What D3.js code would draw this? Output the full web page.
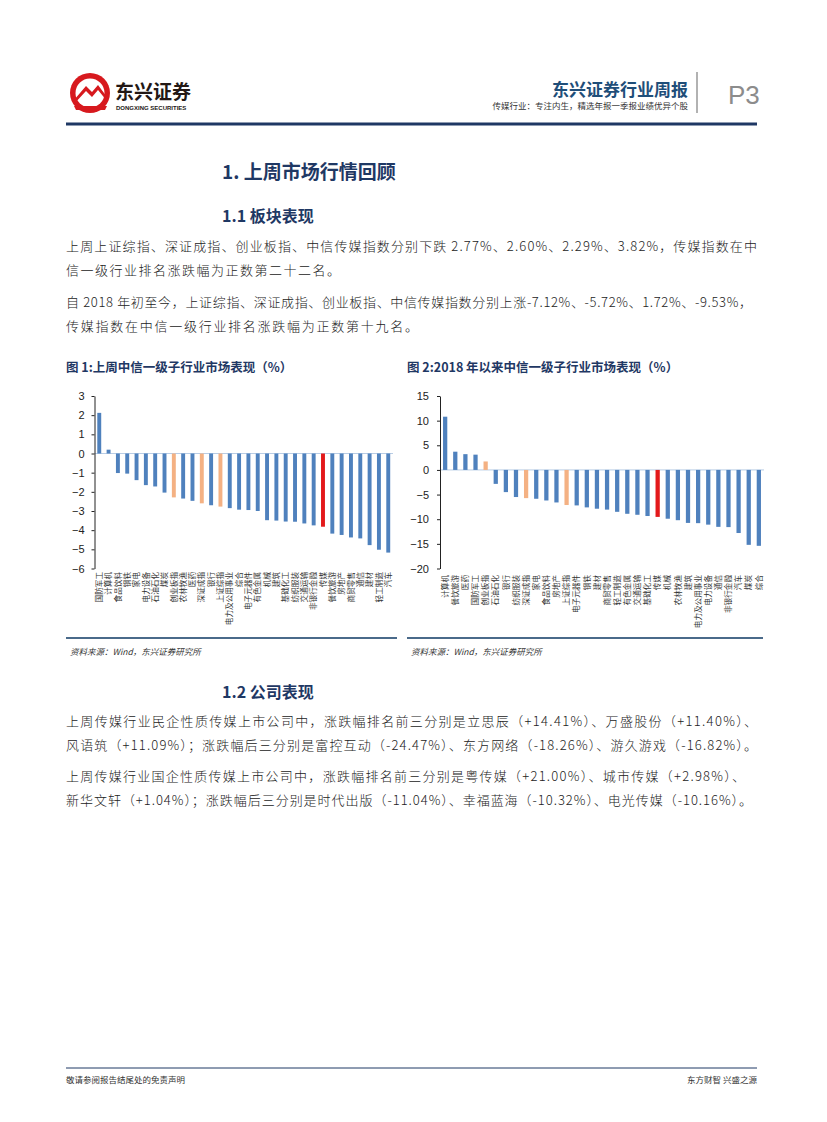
<!DOCTYPE html>
<html>
<head>
<meta charset="utf-8">
<script src="https://cdn.jsdelivr.net/npm/d3@7"></script>
<style>
  body { margin: 0; background: #fff; }
  svg { display: block; }
</style>
</head>
<body>
<div id="page"></div>
<script>
// ---- data ----
var cats1 = ["国防军工","计算机","食品饮料","钢铁","家电","电力设备","石油石化","煤炭","创业板指","农林牧渔","医药","深证成指","银行","上证综指","电力及公用事业","综合","电子元器件","有色金属","机械","建筑","基础化工","纺织服装","交通运输","非银行金融","传媒","餐饮旅游","房地产","商贸零售","通信","建材","轻工制造","汽车"];
var vals1 = [2.12,0.2,-1.02,-1.05,-1.39,-1.65,-1.72,-2.04,-2.29,-2.35,-2.47,-2.60,-2.70,-2.77,-2.85,-2.93,-2.95,-3.0,-3.48,-3.5,-3.55,-3.56,-3.65,-3.75,-3.82,-4.18,-4.25,-4.38,-4.43,-4.78,-5.02,-5.17];
var ticks1 = [3,2,1,0,-1,-2,-3,-4,-5,-6];

var cats2 = ["计算机","餐饮旅游","医药","国防军工","创业板指","石油石化","银行","纺织服装","深证成指","家电","食品饮料","房地产","上证综指","电子元器件","钢铁","建材","商贸零售","轻工制造","有色金属","交通运输","基础化工","传媒","机械","农林牧渔","建筑","电力及公用事业","电力设备","通信","非银行金融","汽车","煤炭","综合"];
var vals2 = [10.8,3.7,3.2,3.1,1.72,-2.83,-4.5,-5.5,-5.72,-5.85,-6.2,-6.6,-7.12,-7.2,-7.6,-7.87,-8.05,-8.5,-8.9,-9.1,-9.35,-9.53,-9.9,-10.2,-10.75,-10.8,-11.1,-11.55,-11.6,-12.8,-15.2,-15.4];
var ticks2 = [15,10,5,0,-5,-10,-15,-20];

var indexNames = ["上证综指","深证成指","创业板指"];
var focusName = "传媒";

var para1 = [
  "上周上证综指、深证成指、创业板指、中信传媒指数分别下跌 2.77%、2.60%、2.29%、3.82%，传媒指数在中",
  "信一级行业排名涨跌幅为正数第二十二名。"
];
var para2 = [
  "自 2018 年初至今，上证综指、深证成指、创业板指、中信传媒指数分别上涨-7.12%、-5.72%、1.72%、-9.53%，",
  "传媒指数在中信一级行业排名涨跌幅为正数第十九名。"
];
var para3 = [
  "上周传媒行业民企性质传媒上市公司中，涨跌幅排名前三分别是立思辰（+14.41%）、万盛股份（+11.40%）、",
  "风语筑（+11.09%）；涨跌幅后三分别是富控互动（-24.47%）、东方网络（-18.26%）、游久游戏（-16.82%）。"
];
var para4 = [
  "上周传媒行业国企性质传媒上市公司中，涨跌幅排名前三分别是粤传媒（+21.00%）、城市传媒（+2.98%）、",
  "新华文轩（+1.04%）；涨跌幅后三分别是时代出版（-11.04%）、幸福蓝海（-10.32%）、电光传媒（-10.16%）。"
];

// ---- page ----
var W = 827, H = 1122;
var NAVY = "#1F3864", BLUE = "#4F81BD", ORANGE = "#F4B183", RED = "#E3191B";
var CJK = "'Noto Sans CJK SC', sans-serif";

var svg = d3.select("#page").append("svg").attr("width", W).attr("height", H);
svg.append("rect").attr("width", W).attr("height", H).attr("fill", "#fff");

// header logo
var logo = svg.append("g");
logo.append("circle").attr("cx", 90).attr("cy", 93).attr("r", 20).attr("fill", "#D7191E");
logo.append("circle").attr("cx", 90).attr("cy", 93).attr("r", 14.5).attr("fill", "#fff");
logo.append("path").attr("d", "M74,100 L86,86 L92,92 L98,85 L107,97 L107,101 L98,90 L92,97 L86,91 L74,104 Z").attr("fill", "#D7191E");
logo.append("path").attr("d", "M74,106 L107,106 L105,110 L76,110 Z").attr("fill", "#D7191E");
logo.append("text").attr("x", 115).attr("y", 99).attr("font-family", CJK).attr("font-weight", 700)
  .attr("font-size", 19).attr("fill", "#231815").text("东兴证券");
logo.append("text").attr("x", 116).attr("y", 110).attr("font-family", "'Liberation Sans', Arial").attr("font-weight", 700)
  .attr("font-size", 6).attr("fill", "#231815").text("DONGXING SECURITIES");

svg.append("text").attr("x", 688).attr("y", 96).attr("text-anchor", "end").attr("font-family", CJK)
  .attr("font-weight", 700).attr("font-size", 17).attr("fill", "#1F4E79").text("东兴证券行业周报");
svg.append("text").attr("x", 688).attr("y", 109).attr("text-anchor", "end").attr("font-family", CJK)
  .attr("font-size", 8.5).attr("fill", "#333").text("传媒行业：专注内生，精选年报一季报业绩优异个股");
svg.append("line").attr("x1", 697).attr("x2", 697).attr("y1", 72).attr("y2", 113).attr("stroke", "#999").attr("stroke-width", 1.5);
svg.append("text").attr("x", 728).attr("y", 104).attr("font-family", "'Liberation Sans', Arial")
  .attr("font-size", 26).attr("fill", "#8c8c8c").text("P3");
svg.append("line").attr("x1", 66).attr("x2", 757).attr("y1", 124).attr("y2", 124).attr("stroke", NAVY).attr("stroke-width", 3);

// headings
function heading(txt, y, size) {
  svg.append("text").attr("x", 222).attr("y", y).attr("font-family", CJK).attr("font-weight", 700)
    .attr("font-size", size).attr("fill", NAVY).text(txt);
}
heading("1. 上周市场行情回顾", 179, 19);
heading("1.1 板块表现", 222, 16);
heading("1.2 公司表现", 698, 16);

// paragraphs (line widths measured from the page)
function para(lines, y0, widths) {
  lines.forEach(function(t, i) {
    var el = svg.append("text").attr("x", 66).attr("y", y0 + i * 24).attr("font-family", CJK)
      .attr("font-size", 13).attr("font-weight", 300).attr("fill", "#222").text(t);
    if (widths[i]) el.attr("textLength", widths[i]).attr("lengthAdjust", "spacing");
  });
}
para(para1, 251, [691, 274]);
para(para2, 307, [686, 352]);
para(para3, 726, [691, 691]);
para(para4, 781, [679, 686]);

// ---- charts ----
function barChart(opt) {
  var g = svg.append("g");
  g.append("text").attr("x", opt.titleX).attr("y", 372).attr("font-family", CJK).attr("font-weight", 700)
    .attr("font-size", 12.5).attr("fill", NAVY).text(opt.title);

  var x = d3.scaleBand().domain(opt.cats).range(opt.xRange).paddingInner(0.58).paddingOuter(0.3);
  var y = d3.scaleLinear().domain(opt.domain).range([568.5, 396]);

  // zero line
  g.append("line").attr("x1", opt.xRange[0]).attr("x2", opt.xRange[1]).attr("y1", y(0)).attr("y2", y(0))
    .attr("stroke", "#B9CDE5").attr("stroke-width", 1);

  g.selectAll("rect.bar").data(opt.vals).enter().append("rect").attr("class", "bar")
    .attr("x", function(d, i) { return x(opt.cats[i]); })
    .attr("width", x.bandwidth())
    .attr("y", function(d) { return y(Math.max(0, d)); })
    .attr("height", function(d) { return Math.abs(y(d) - y(0)); })
    .attr("fill", function(d, i) {
      var c = opt.cats[i];
      if (c === focusName) return RED;
      if (indexNames.indexOf(c) !== -1) return ORANGE;
      return BLUE;
    });

  var ax = g.append("g").attr("transform", "translate(" + opt.xRange[0] + ",0)")
    .call(d3.axisLeft(y).tickValues(opt.ticks).tickSize(3).tickSizeOuter(0).tickPadding(opt.tickPad)
      .tickFormat(d3.format("d")));
  ax.select(".domain").attr("stroke", "#222");
  ax.selectAll(".tick line").attr("stroke", "#222");
  ax.selectAll("text").attr("font-family", "'Liberation Sans', Arial").attr("font-size", 11).attr("fill", "#222");

  // vertical category labels, reading upward, ending just under the axis
  g.selectAll("text.cat").data(opt.cats).enter().append("text").attr("class", "cat")
    .attr("transform", function(d) {
      return "translate(" + (x(d) + x.bandwidth() / 2 + 2.7) + "," + opt.labelY + ") rotate(-90)";
    })
    .attr("text-anchor", "end").attr("font-family", CJK).attr("font-size", 7.6).attr("fill", "#333")
    .text(function(d) { return d; });

  g.append("line").attr("x1", opt.frame[0]).attr("x2", opt.frame[1]).attr("y1", 638).attr("y2", 638)
    .attr("stroke", "#4A6A8A").attr("stroke-width", 2);
  g.append("text").attr("x", opt.frame[0] + 4).attr("y", 655).attr("font-family", CJK)
    .attr("font-style", "italic").attr("font-size", 8.5).attr("fill", "#333").text("资料来源：Wind，东兴证券研究所");
}

barChart({
  title: "图 1:上周中信一级子行业市场表现（%）", titleX: 66,
  cats: cats1, vals: vals1, ticks: ticks1, domain: [-6, 3], tickPad: 7,
  xRange: [94.5, 393], labelY: 572, frame: [66, 397]
});
barChart({
  title: "图 2:2018 年以来中信一级子行业市场表现（%）", titleX: 407,
  cats: cats2, vals: vals2, ticks: ticks2, domain: [-20, 15], tickPad: 8,
  xRange: [440, 764], labelY: 575, frame: [407, 763]
});

// footer
svg.append("line").attr("x1", 66).attr("x2", 757).attr("y1", 1068).attr("y2", 1068).attr("stroke", NAVY).attr("stroke-width", 1);
svg.append("text").attr("x", 66).attr("y", 1083).attr("font-family", CJK).attr("font-size", 8.5).attr("fill", "#333")
  .text("敬请参阅报告结尾处的免责声明");
svg.append("text").attr("x", 757).attr("y", 1083).attr("text-anchor", "end").attr("font-family", CJK).attr("font-size", 8.5)
  .attr("fill", "#333").text("东方财智 兴盛之源");
</script>
</body>
</html>
